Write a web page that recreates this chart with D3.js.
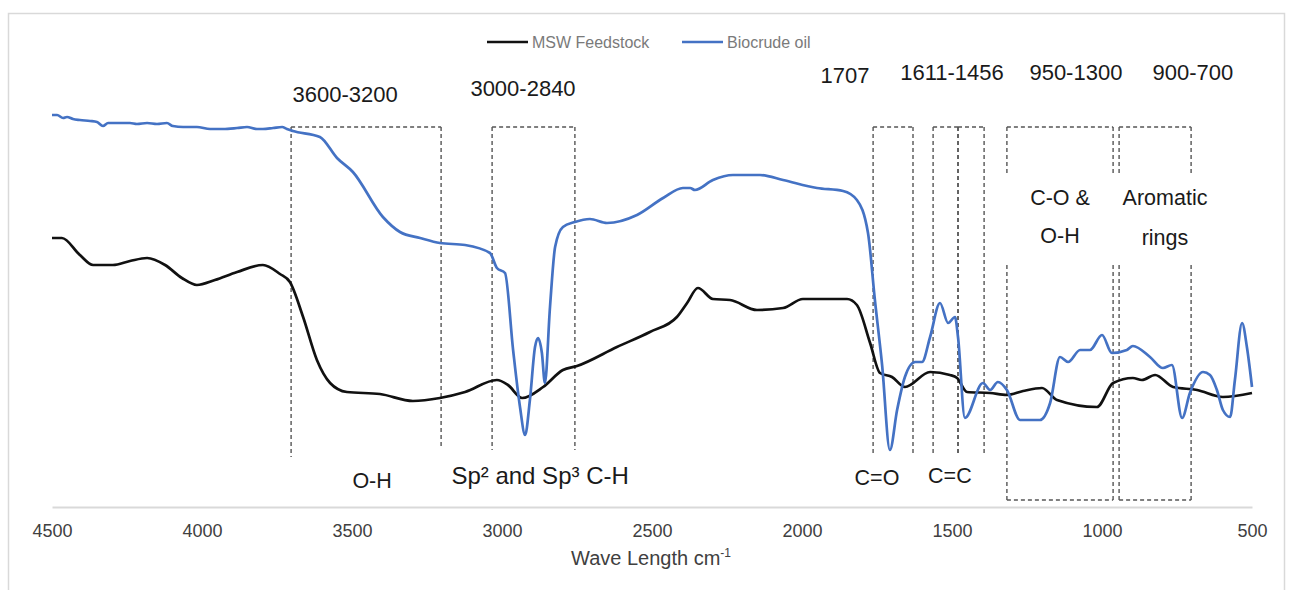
<!DOCTYPE html>
<html lang="en">
<head>
  <meta charset="UTF-8" />
  <title>FTIR spectra: MSW feedstock vs biocrude oil</title>
  <script src="https://d3js.org/d3.v7.min.js"></script>
  <style>
    body { margin: 0; background: #fff; }
    svg { font-family: "Liberation Sans", Arial, sans-serif; }
    .line { fill: none; stroke-width: 2.7px; stroke-linejoin: round; }
    .msw { stroke: #111; }
    .bio { stroke: #4472c4; }
    .band { fill: none; stroke: #555; stroke-width: 1.4px; stroke-dasharray: 4,3; }
    .note { fill: #1a1a1a; text-anchor: middle; }
  </style>
</head>
<body>
  <svg width="1293" height="590"></svg>

  <script>
    // wavenumber (cm-1), transmittance (arb. units)
    const mswFeedstock = [
      [4500, 67.25], [4467, 67.25], [4407, 63.0], [4363, 60.5], [4297, 60.5],
      [4240, 61.5], [4183, 62.25], [4123, 60.5], [4067, 57.25], [4017, 55.5],
      [3957, 56.75], [3883, 58.75], [3797, 60.5], [3740, 58.25], [3707, 56.25],
      [3663, 47.5], [3617, 36.75], [3573, 31.0], [3517, 28.75], [3407, 28.25],
      [3297, 26.5], [3207, 27.25], [3123, 28.75], [3017, 31.75], [2980, 30.5],
      [2933, 27.25], [2863, 30.0], [2797, 34.25], [2750, 35.25], [2617, 40.0],
      [2507, 43.75], [2417, 47.5], [2383, 51.0], [2347, 54.75], [2297, 52.0],
      [2240, 51.75], [2150, 49.25], [2063, 49.75], [1997, 52.0], [1850, 52.0],
      [1817, 50.5], [1773, 41.0], [1740, 33.5], [1700, 32.5], [1657, 30.0],
      [1573, 33.75], [1507, 33.0], [1483, 32.25], [1450, 28.75], [1373, 28.5],
      [1317, 28.0], [1263, 29.0], [1200, 29.75], [1150, 26.75], [1017, 25.0],
      [963, 31.0], [897, 32.25], [867, 31.75], [823, 33.0], [763, 30.0],
      [683, 29.25], [597, 27.5], [500, 28.5]
    ];

    const biocrudeOil = [
      [4500, 98.0], [4483, 98.0], [4463, 97.25], [4450, 97.5], [4430, 97.0],
      [4407, 96.75], [4373, 96.5], [4350, 96.25], [4330, 95.25], [4313, 96.0],
      [4283, 96.0], [4240, 96.0], [4217, 95.75], [4183, 96.0], [4150, 95.75],
      [4117, 96.0], [4097, 95.25], [4063, 95.0], [4017, 95.0], [3973, 94.5],
      [3930, 94.5], [3883, 94.75], [3850, 95.0], [3817, 94.5], [3797, 94.5],
      [3763, 94.75], [3733, 95.0], [3717, 94.5], [3697, 94.0], [3607, 92.5],
      [3550, 87.25], [3497, 83.75], [3397, 72.5], [3340, 68.75], [3273, 67.25],
      [3207, 66.0], [3123, 65.5], [3040, 63.5], [3017, 59.75], [2990, 58.5],
      [2963, 39.25], [2940, 25.0], [2923, 18.0], [2907, 26.75], [2890, 40.0],
      [2880, 42.25], [2867, 38.5], [2857, 31.0], [2840, 50.0], [2823, 65.0],
      [2797, 70.0], [2757, 71.25], [2707, 72.0], [2650, 71.0], [2550, 73.0],
      [2463, 77.25], [2397, 79.75], [2373, 79.75], [2357, 79.25], [2297, 81.75],
      [2230, 83.0], [2140, 83.0], [2063, 81.75], [1950, 79.75], [1863, 79.0],
      [1817, 76.75], [1780, 68.5], [1757, 51.75], [1733, 35.5], [1707, 14.25],
      [1683, 24.25], [1657, 32.5], [1623, 36.25], [1600, 36.25], [1573, 42.5],
      [1540, 51.0], [1513, 46.0], [1490, 47.5], [1480, 42.5], [1457, 22.25],
      [1397, 31.0], [1373, 29.25], [1347, 31.25], [1317, 29.25], [1273, 21.75],
      [1207, 21.75], [1173, 26.0], [1140, 37.5], [1113, 36.25], [1073, 39.25],
      [1040, 39.25], [1000, 43.0], [967, 38.5], [917, 39.25], [897, 40.25],
      [840, 37.5], [797, 34.75], [767, 35.5], [733, 22.25], [707, 28.5],
      [663, 33.75], [640, 33.0], [617, 29.25], [597, 24.25], [573, 22.5],
      [557, 31.75], [533, 46.0], [517, 40.0], [500, 30.0]
    ];

    const seriesNames = ["MSW Feedstock", "Biocrude oil"];
    const xTicks = [4500, 4000, 3500, 3000, 2500, 2000, 1500, 1000, 500];

    // dashed band boxes: [from, to, top, bottom at left, bottom at right, closed, gap]
    const bandBoxes = [
      [3703, 3203, 95, 12.5, 14.75, false, null],
      [3033, 2757, 95, 14.25, 14.25, false, null],
      [1763, 1630, 95, 13.5, 13.5, false, null],
      [1563, 1480, 95, 13.5, 13.5, false, null],
      [1480, 1393, 95, 13.5, 13.5, false, null],
      [1317, 963, 95, 1.75, 1.75, true, [83.5, 60.5]],
      [943, 703, 95, 1.75, 1.75, true, [83.5, 60.5]]
    ];

    // labels: text, wavenumber, value (baseline), font size
    const bandLabels = [
      ["3600-3200", 3523, 101.25, 22],
      ["3000-2840", 2930, 102.75, 22],
      ["1707", 1857, 106, 22],
      ["1611-1456", 1500, 106.75, 22],
      ["950-1300", 1087, 106.75, 22],
      ["900-700", 697, 106.75, 22],
      ["O-H", 3433, 4.75, 21.5],
      ["Sp\u00B2 and Sp\u00B3 C-H", 2873, 5.75, 24],
      ["C=O", 1750, 5.5, 21.5],
      ["C=C", 1507, 6.0, 21.5],
      ["C-O &", 1140, 75.5, 21.5],
      ["O-H", 1140, 66.0, 21.5],
      ["Aromatic", 790, 75.5, 21.5],
      ["rings", 790, 65.5, 21.5]
    ];

    const svg = d3.select("svg");

    // chart area border
    svg.append("rect")
      .attr("x", 8.5).attr("y", 13.5)
      .attr("width", 1276).attr("height", 600)
      .attr("fill", "none")
      .attr("stroke", "#d9d9d9")
      .attr("stroke-width", 1.5);

    const x = d3.scaleLinear().domain([4500, 500]).range([52, 1252]);
    const y = d3.scaleLinear().domain([0, 100]).range([507, 107]);

    // x axis
    const xAxis = svg.append("g")
      .attr("transform", "translate(0,507)")
      .call(d3.axisBottom(x).tickValues(xTicks).tickSize(0).tickPadding(17).tickFormat(d3.format("d")));
    xAxis.select(".domain").attr("stroke", "#d9d9d9").attr("stroke-width", 2);
    xAxis.selectAll("text")
      .attr("fill", "#404040")
      .style("font-size", "18px");

    const title = svg.append("text")
      .attr("x", 651).attr("y", 565)
      .attr("text-anchor", "middle")
      .attr("fill", "#404040")
      .style("font-size", "20px")
      .text("Wave Length cm");
    title.append("tspan")
      .attr("dy", -8)
      .style("font-size", "12px")
      .text("-1");

    // dashed boxes
    const band = svg.append("g").attr("class", "band-boxes");
    bandBoxes.forEach(([from, to, top, botL, botR, closed, gap]) => {
      const x0 = x(from), x1 = x(to);
      band.append("line").attr("class", "band")
        .attr("x1", x0).attr("x2", x1).attr("y1", y(top)).attr("y2", y(top));
      const sides = [[x0, botL], [x1, botR]];
      sides.forEach(([sx, b]) => {
        if (gap) {
          band.append("line").attr("class", "band")
            .attr("x1", sx).attr("x2", sx).attr("y1", y(top)).attr("y2", y(gap[0]));
          band.append("line").attr("class", "band")
            .attr("x1", sx).attr("x2", sx).attr("y1", y(gap[1])).attr("y2", y(b));
        } else {
          band.append("line").attr("class", "band")
            .attr("x1", sx).attr("x2", sx).attr("y1", y(top)).attr("y2", y(b));
        }
      });
      if (closed) {
        band.append("line").attr("class", "band")
          .attr("x1", x0).attr("x2", x1).attr("y1", y(botL)).attr("y2", y(botR));
      }
    });

    // spectra
    const line = d3.line()
      .x(d => x(d[0]))
      .y(d => y(d[1]))
      .curve(d3.curveMonotoneX);

    svg.append("path")
      .datum(mswFeedstock)
      .attr("class", "line msw")
      .attr("d", line);

    svg.append("path")
      .datum(biocrudeOil)
      .attr("class", "line bio")
      .attr("d", line);

    // annotations
    svg.append("g").selectAll("text")
      .data(bandLabels)
      .join("text")
      .attr("class", "note")
      .attr("x", d => x(d[1]))
      .attr("y", d => y(d[2]))
      .style("font-size", d => d[3] + "px")
      .text(d => d[0]);

    // legend
    const legendX = [487, 682];
    const legend = svg.append("g");
    seriesNames.forEach((name, i) => {
      const g = legend.append("g").attr("transform", `translate(${legendX[i]},42)`);
      g.append("line")
        .attr("x1", 0).attr("x2", 41)
        .attr("stroke", i === 0 ? "#111" : "#4472c4")
        .attr("stroke-width", 2.7);
      g.append("text")
        .attr("x", 45).attr("y", 6)
        .attr("fill", "#7a7a7a")
        .style("font-size", "16px")
        .text(name);
    });
  </script>
</body>
</html>
